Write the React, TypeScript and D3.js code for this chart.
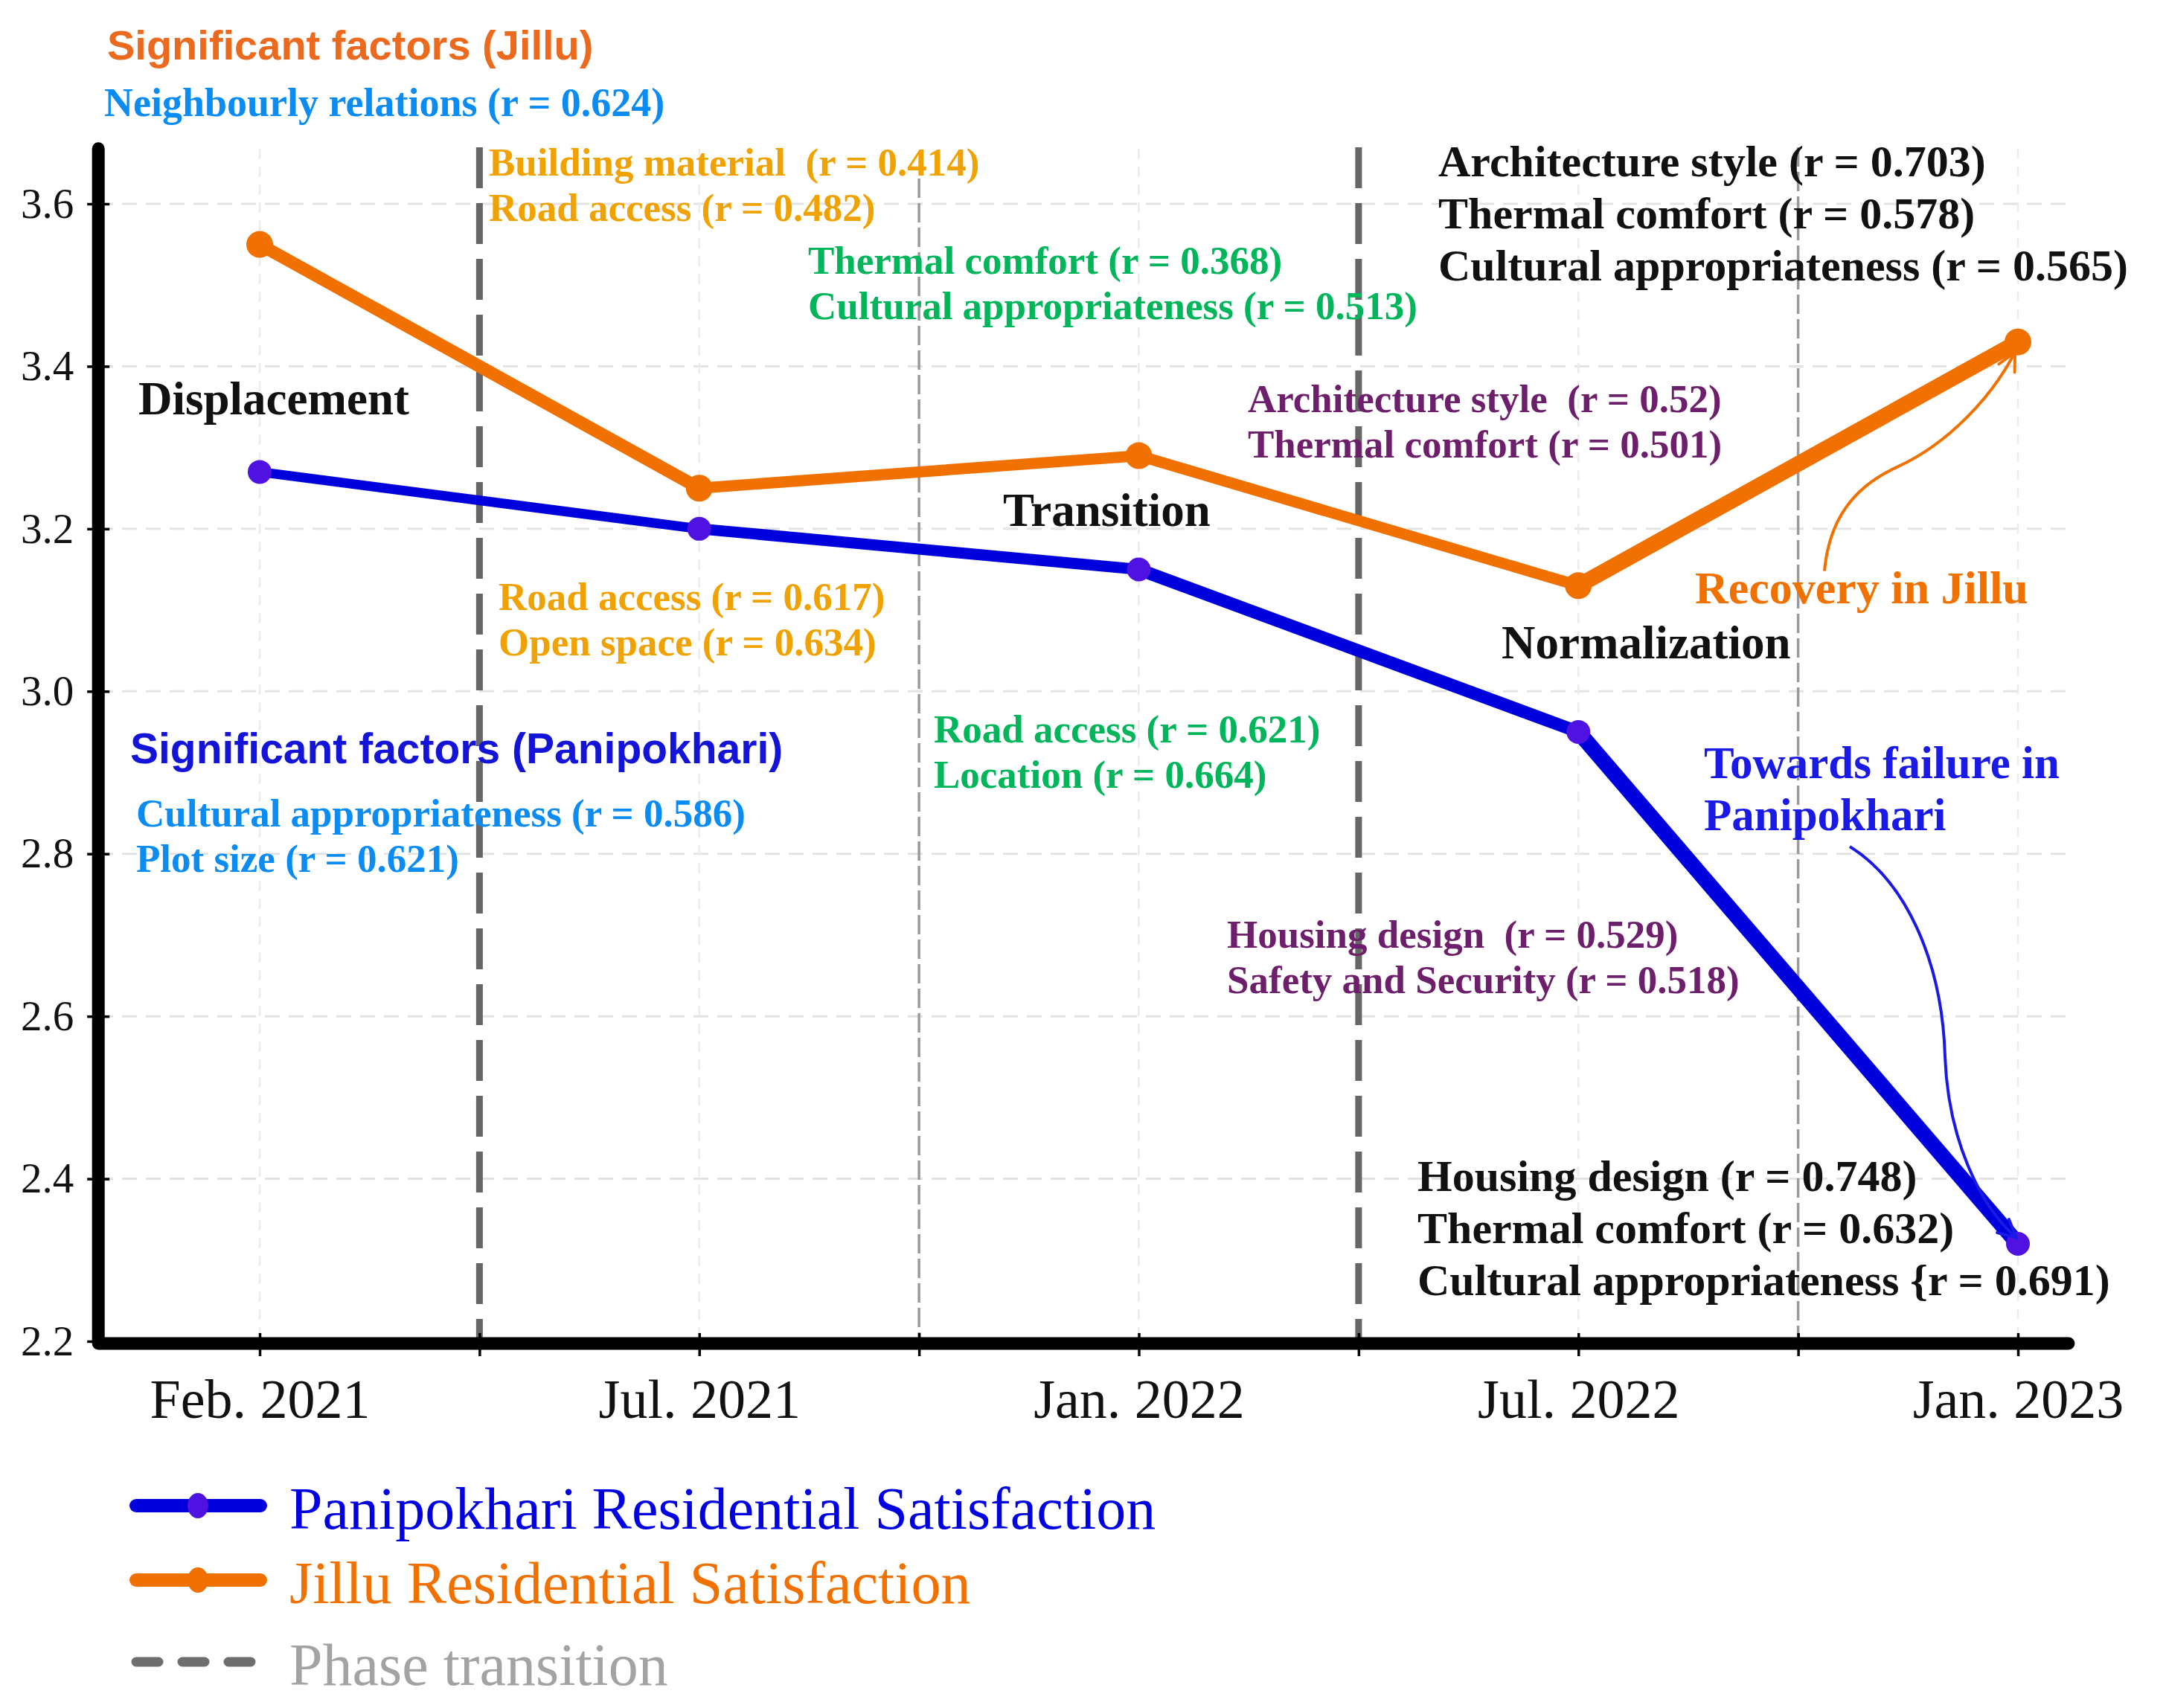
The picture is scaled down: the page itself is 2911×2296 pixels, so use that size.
import { useRef, useEffect } from 'react'
import * as d3 from 'd3'

const periods = ['Feb. 2021', 'Jul. 2021', 'Jan. 2022', 'Jul. 2022', 'Jan. 2023']
const panipokhari = [3.27, 3.2, 3.15, 2.95, 2.32]
const jillu = [3.55, 3.25, 3.29, 3.13, 3.43]
const yTicks = [2.2, 2.4, 2.6, 2.8, 3.0, 3.2, 3.4, 3.6]
const phaseBreaks = [0.5, 1.5, 2.5, 3.5]
const phaseMajor = [true, false, true, false]
const stages = ['Displacement', 'Transition', 'Normalization']

const SERIF = '"Liberation Serif", "Times New Roman", serif'
const SANS = '"Liberation Sans", Arial, sans-serif'
const ORANGE = '#f07000'
const BLUE = '#0000dc'
const BLUE_DOT = '#5012e0'
const AMBER = '#f0a202'
const GREEN = '#00b55a'
const PURPLE = '#6e1f6c'
const AZURE = '#0a8cf2'

// annotation layout (pixel positions)
const factorLabels = [
  { lines: ['Building material \u00a0(r = 0.414)', 'Road access (r = 0.482)'], x: 657, y: 236, color: AMBER },
  { lines: ['Road access (r = 0.617)', 'Open space (r = 0.634)'], x: 670, y: 820, color: AMBER },
  { lines: ['Thermal comfort (r = 0.368)', 'Cultural appropriateness (r = 0.513)'], x: 1086, y: 368, color: GREEN },
  { lines: ['Road access (r = 0.621)', 'Location (r = 0.664)'], x: 1255, y: 998, color: GREEN },
  { lines: ['Architecture style \u00a0(r = 0.52)', 'Thermal comfort (r = 0.501)'], x: 1677, y: 554, color: PURPLE },
  { lines: ['Housing design \u00a0(r = 0.529)', 'Safety and Security (r = 0.518)'], x: 1649, y: 1274, color: PURPLE },
  { lines: ['Cultural appropriateness (r = 0.586)', 'Plot size (r = 0.621)'], x: 183, y: 1111, color: AZURE },
]
const blackLabels = [
  { lines: ['Architecture style (r = 0.703)', 'Thermal comfort (r = 0.578)', 'Cultural appropriateness (r = 0.565)'], x: 1933, y: 237 },
  { lines: ['Housing design (r = 0.748)', 'Thermal comfort (r = 0.632)', 'Cultural appropriateness {r = 0.691)'], x: 1905, y: 1601 },
]
const stagePos = [[186, 557], [1348, 707], [2018, 885]]

export default function App() {
  const svgRef = useRef<SVGSVGElement>(null)

  useEffect(() => {
    if (!svgRef.current) return
    document.body.style.margin = '0'
    const svg = d3.select(svgRef.current)
    svg.selectAll('*').remove()

    const x = d3.scaleLinear().domain([0, periods.length - 1]).range([349, 2712])
    const y = d3.scaleLinear().domain([2.2, 3.6]).range([1803, 274])
    const xLeft = x(-0.367)
    const xRight = x(4.115)
    const yTop = y(3.668)
    const yBase = y(2.2) + 3

    const defs = svg.append('defs')
    const addArrow = (id: string, color: string) => {
      defs.append('marker')
        .attr('id', id)
        .attr('viewBox', '0 0 10 10')
        .attr('refX', 9).attr('refY', 5)
        .attr('markerWidth', 30).attr('markerHeight', 30)
        .attr('markerUnits', 'userSpaceOnUse')
        .attr('orient', 'auto')
        .append('path')
        .attr('d', 'M1,1 L9,5 L1,9')
        .attr('fill', 'none')
        .attr('stroke', color)
        .attr('stroke-width', 1.3)
        .attr('stroke-linecap', 'round')
    }
    addArrow('arrow-orange', ORANGE)
    addArrow('arrow-blue', '#1a1ae6')

    // Grid
    const grid = svg.append('g')
    grid.append('g').selectAll('line')
      .data(yTicks.filter((t) => t > 2.2))
      .join('line')
      .attr('x1', xLeft).attr('x2', xRight)
      .attr('y1', (d) => y(d)).attr('y2', (d) => y(d))
      .attr('stroke', '#e3e3e3').attr('stroke-width', 3).attr('stroke-dasharray', '20 12')
    grid.append('g').selectAll('line')
      .data(periods.map((_, i) => i))
      .join('line')
      .attr('x1', (d) => x(d)).attr('x2', (d) => x(d))
      .attr('y1', yTop).attr('y2', yBase)
      .attr('stroke', '#ececec').attr('stroke-width', 2.5).attr('stroke-dasharray', '14 10')

    // Phase transitions
    svg.append('g').selectAll('line')
      .data(phaseBreaks.map((b, i) => ({ b, major: phaseMajor[i] })))
      .join('line')
      .attr('x1', (d) => x(d.b)).attr('x2', (d) => x(d.b))
      .attr('y1', (d, i) => (i === 1 ? 240 : 198)).attr('y2', yBase)
      .attr('stroke', (d) => (d.major ? '#666' : '#9a9a9a'))
      .attr('stroke-width', (d) => (d.major ? 9 : 3.5))
      .attr('stroke-dasharray', (d) => (d.major ? '55 20' : '26 7'))

    // Axes ticks + labels
    const yAxis = svg.append('g')
      .attr('transform', `translate(${xLeft + 15},0)`)
      .call(d3.axisLeft(y).tickValues(yTicks).tickSize(30).tickPadding(18).tickFormat(d3.format('.1f')))
    yAxis.select('.domain').remove()
    yAxis.selectAll('.tick line').attr('stroke', '#000').attr('stroke-width', 3.5)
    yAxis.selectAll('text').attr('font-family', SERIF).attr('font-size', 57).attr('fill', '#111')

    const halfTicks = d3.range(0, periods.length - 0.5, 0.5)
    const xAxis = svg.append('g')
      .attr('transform', `translate(0,${yBase - 14})`)
      .call(d3.axisBottom(x).tickValues(halfTicks).tickSize(31)
        .tickFormat((d) => (Number.isInteger(d) ? periods[d as number] : '')))
    xAxis.select('.domain').remove()
    xAxis.selectAll('.tick line').attr('stroke', '#000').attr('stroke-width', 3.5)
    xAxis.selectAll('text')
      .attr('y', 1906 - (yBase - 14)).attr('dy', 0)
      .attr('font-family', SERIF).attr('font-size', 74).attr('fill', '#111')

    // Axis lines
    svg.append('path')
      .attr('d', `M${xLeft},${yTop} L${xLeft},${yBase} L${xRight},${yBase}`)
      .attr('fill', 'none').attr('stroke', '#000').attr('stroke-width', 17)
      .attr('stroke-linecap', 'round').attr('stroke-linejoin', 'round')

    // Series
    const line = d3.line<[number, number]>()
    const drawSeries = (vals: number[], widths: number[], color: string, dot: string, r: number) => {
      const pts = vals.map((v, i) => [x(i), y(v)] as [number, number])
      const g = svg.append('g')
      g.selectAll('path')
        .data(d3.pairs(pts))
        .join('path')
        .attr('d', (d) => line(d))
        .attr('fill', 'none')
        .attr('stroke', color)
        .attr('stroke-width', (_, i) => widths[i])
        .attr('stroke-linecap', 'round')
      g.selectAll('circle')
        .data(pts)
        .join('circle')
        .attr('cx', (d) => d[0]).attr('cy', (d) => d[1]).attr('r', r)
        .attr('fill', dot)
    }
    drawSeries(jillu, [17, 15, 15, 21], ORANGE, ORANGE, 18)
    drawSeries(panipokhari, [13, 15, 17, 21], BLUE, BLUE_DOT, 16)

    // Text annotations
    const txt = svg.append('g')
    txt.append('text')
      .attr('x', 144).attr('y', 80)
      .attr('font-family', SANS).attr('font-weight', 'bold').attr('font-size', 56)
      .attr('fill', '#ec6a1e').text('Significant factors (Jillu)')
    txt.append('text')
      .attr('x', 140).attr('y', 156)
      .attr('font-family', SERIF).attr('font-weight', 'bold').attr('font-size', 54)
      .attr('fill', AZURE).text('Neighbourly relations (r = 0.624)')
    txt.append('text')
      .attr('x', 175).attr('y', 1026)
      .attr('font-family', SANS).attr('font-weight', 'bold').attr('font-size', 57)
      .attr('fill', '#1414d8').text('Significant factors (Panipokhari)')

    for (const block of factorLabels) {
      txt.append('g').selectAll('text')
        .data(block.lines)
        .join('text')
        .attr('x', block.x).attr('y', (_, i) => block.y + i * 61)
        .attr('font-family', SERIF).attr('font-weight', 'bold').attr('font-size', 53)
        .attr('fill', block.color)
        .text((d) => d)
    }
    for (const block of blackLabels) {
      txt.append('g').selectAll('text')
        .data(block.lines)
        .join('text')
        .attr('x', block.x).attr('y', (_, i) => block.y + i * 70)
        .attr('font-family', SERIF).attr('font-weight', 'bold').attr('font-size', 60)
        .attr('fill', '#111')
        .text((d) => d)
    }
    txt.append('g').selectAll('text')
      .data(stages)
      .join('text')
      .attr('x', (_, i) => stagePos[i][0]).attr('y', (_, i) => stagePos[i][1])
      .attr('font-family', SERIF).attr('font-weight', 'bold').attr('font-size', 63)
      .attr('fill', '#111')
      .text((d) => d)

    txt.append('text')
      .attr('x', 2278).attr('y', 811)
      .attr('font-family', SERIF).attr('font-weight', 'bold').attr('font-size', 62)
      .attr('fill', ORANGE).text('Recovery in Jillu')
    txt.append('g').selectAll('text')
      .data(['Towards failure in', 'Panipokhari'])
      .join('text')
      .attr('x', 2290).attr('y', (_, i) => 1046 + i * 70)
      .attr('font-family', SERIF).attr('font-weight', 'bold').attr('font-size', 61)
      .attr('fill', '#1a1ae6')
      .text((d) => d)

    // Arrows ending on the last points
    const jx = x(4) - 4
    const jy = y(jillu[4]) + 14
    const pa = d3.path()
    pa.moveTo(jx - 256, jy + 294)
    pa.bezierCurveTo(jx - 250, jy + 226, jx - 218, jy + 181, jx - 158, jy + 154)
    pa.bezierCurveTo(jx - 88, jy + 122, jx - 30, jy + 58, jx, jy)
    svg.append('path')
      .attr('d', pa.toString())
      .attr('fill', 'none').attr('stroke', ORANGE).attr('stroke-width', 4)
      .attr('marker-end', 'url(#arrow-orange)')

    const bx = x(4) - 2
    const by = y(panipokhari[4]) - 8
    const pb = d3.path()
    pb.moveTo(bx - 224, by - 526)
    pb.bezierCurveTo(bx - 150, by - 480, bx - 100, by - 374, bx - 96, by - 244)
    pb.bezierCurveTo(bx - 92, by - 134, bx - 50, by - 44, bx, by)
    svg.append('path')
      .attr('d', pb.toString())
      .attr('fill', 'none').attr('stroke', '#1a1ae6').attr('stroke-width', 4)
      .attr('marker-end', 'url(#arrow-blue)')

    // Legend
    const legend = svg.append('g')
    const legendItems = [
      { label: 'Panipokhari Residential Satisfaction', color: BLUE, dot: BLUE_DOT, text: '#0000e0', dash: false },
      { label: 'Jillu Residential Satisfaction', color: ORANGE, dot: ORANGE, text: ORANGE, dash: false },
      { label: 'Phase transition', color: '#6e6e6e', dot: null, text: '#a3a3a3', dash: true },
    ]
    const legendY = [2024, 2124, 2234]
    legendItems.forEach((item, i) => {
      const ly = legendY[i]
      legend.append('line')
        .attr('x1', 183).attr('x2', item.dash ? 345 : 350)
        .attr('y1', ly).attr('y2', ly)
        .attr('stroke', item.color)
        .attr('stroke-width', item.dash ? 13 : 18)
        .attr('stroke-linecap', 'round')
        .attr('stroke-dasharray', item.dash ? '30 32' : null)
      if (item.dot) {
        legend.append('ellipse')
          .attr('cx', 266).attr('cy', ly).attr('rx', 14).attr('ry', 17)
          .attr('fill', item.dot)
      }
      legend.append('text')
        .attr('x', 389).attr('y', ly + 31)
        .attr('font-family', SERIF).attr('font-size', 80)
        .attr('fill', item.text)
        .text(item.label)
    })
  }, [])

  return <svg ref={svgRef} width={2911} height={2296} style={{ display: 'block', background: '#fff' }} />
}
